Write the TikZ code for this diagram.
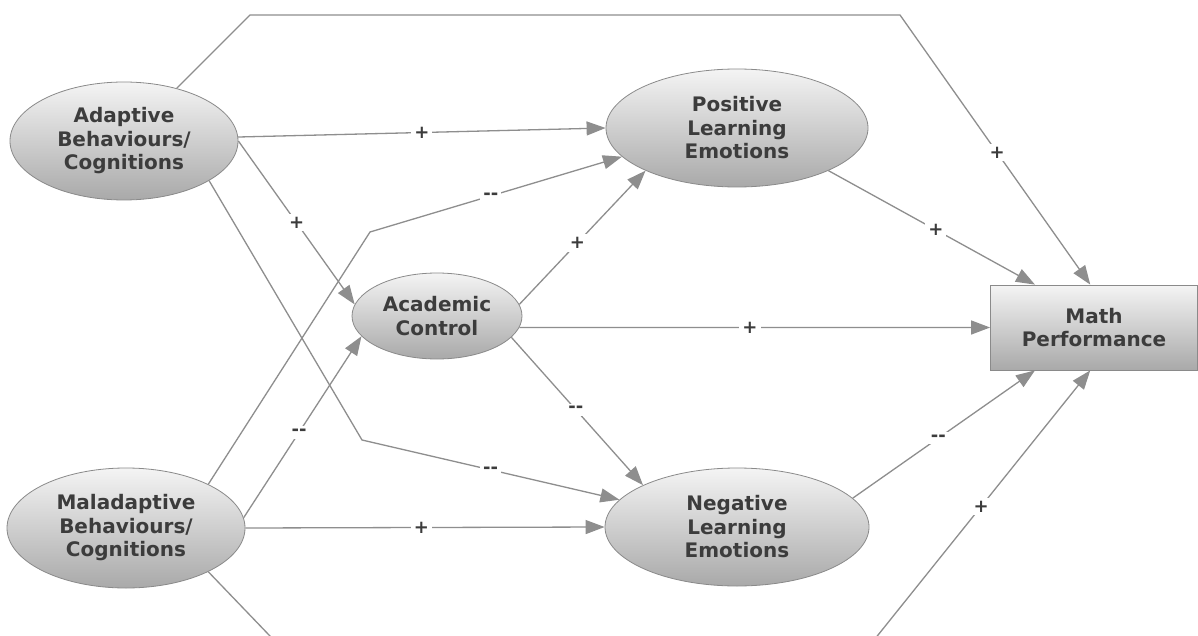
\documentclass[tikz,border=0pt]{standalone}
\usepackage{fontspec}
\setmainfont{DejaVu Sans}
\usetikzlibrary{shapes.geometric,arrows.meta}
\definecolor{edgegray}{HTML}{8E8E8E}
\definecolor{txtgray}{HTML}{3C3C3C}
\definecolor{bordgray}{HTML}{8A8A8A}
\definecolor{shtop}{HTML}{F4F4F4}
\definecolor{shbot}{HTML}{A9A9A9}
\begin{document}
\begin{tikzpicture}[x=1pt,y=-1pt,
  ell/.style={ellipse, draw=bordgray, line width=0.8pt, top color=shtop, bottom color=shbot,
    inner sep=0pt, align=center, text=txtgray, font=\fontsize{20}{23.5}\selectfont\bfseries},
  boxnode/.style={rectangle, draw=bordgray, line width=0.8pt, top color=shtop, bottom color=shbot,
    inner sep=0pt, align=center, text=txtgray, font=\fontsize{20}{23.5}\selectfont\bfseries},
  conn/.style={draw=edgegray, line width=1.3pt, -{Triangle[length=19pt,width=14pt]}},
  lbl/.style={fill=white, inner sep=3pt, text=txtgray, font=\fontsize{18}{18}\selectfont\bfseries}
]
\fill[white] (0,0) rectangle (1198,636);
\useasboundingbox (0,0) rectangle (1198,636);

\node[ell, minimum width=228pt, minimum height=118pt] (adapt) at (124,141) {Adaptive\\Behaviours/\\Cognitions};
\node[ell, minimum width=262pt, minimum height=118pt] (pos) at (737,128) {Positive\\Learning\\Emotions};
\node[ell, minimum width=170pt, minimum height=86pt] (acad) at (437,316) {Academic\\Control};
\node[boxnode, minimum width=207pt, minimum height=85pt] (math) at (1094,327.5) {Math\\Performance};
\node[ell, minimum width=238pt, minimum height=120pt] (mal) at (126,528) {Maladaptive\\Behaviours/\\Cognitions};
\node[ell, minimum width=264pt, minimum height=118pt] (neg) at (737,527) {Negative\\Learning\\Emotions};

\coordinate (t1) at (250,15);
\coordinate (t2) at (900,15);
\coordinate (c1) at (362,440);
\coordinate (c2) at (370,232);
\coordinate (b1) at (293,660);
\coordinate (b2) at (858,660);

% Adaptive
\draw[conn] (adapt.2) -- node[lbl]{+} (pos.west);
\draw[conn] (adapt.east) -- node[lbl]{+} (acad.172);
\draw[conn] (adapt.-25) -- (c1) -- node[lbl]{-{}-} (neg);
\draw[conn] (adapt.45) -- (t1) -- (t2) -- node[lbl, pos=0.51]{+} (math.95);

% Maladaptive
\draw[conn] (mal.28) -- (c2) -- node[lbl, pos=0.48]{-{}-} (pos.194);
\draw[conn] (mal.5) -- node[lbl, pos=0.47]{-{}-} (acad.195);
\draw[conn] (mal.east) -- node[lbl, pos=0.49]{+} (neg.west);
\begin{scope}
  \clip (0,0) rectangle (1198,636);
  \draw[conn] (mal.-28) -- (b1) -- (b2) -- node[lbl, pos=0.53]{+} (math.265);
\end{scope}

% Academic control
\draw[conn] (acad.8) -- node[lbl, pos=0.46]{+} (pos.205);
\draw[conn] (acad.-8) -- node[lbl, pos=0.49]{+} (math.west);
\draw[conn] (acad.-16) -- node[lbl, pos=0.49]{-{}-} (neg.156);

% Emotions to performance
\draw[conn] (pos.-25) -- node[lbl, pos=0.52]{+} (math.144);
\draw[conn] (neg.14) -- node[lbl, pos=0.47]{-{}-} (math.216);
\end{tikzpicture}
\end{document}
